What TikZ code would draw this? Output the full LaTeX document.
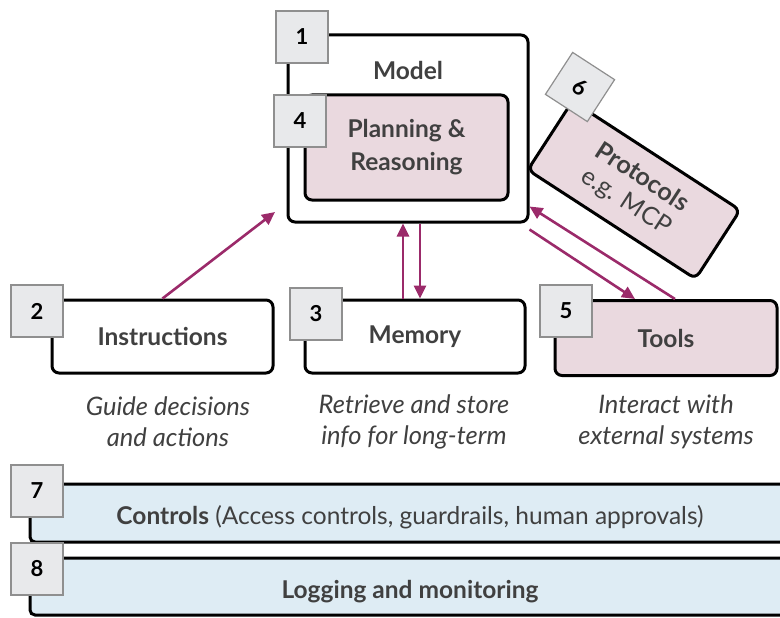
\documentclass[tikz,border=0pt]{standalone}
\usepackage{fontspec}
\setmainfont{Lato}
\usetikzlibrary{arrows.meta}
\definecolor{plum}{HTML}{9B2A6A}
\definecolor{pinkfill}{HTML}{EAD9DF}
\definecolor{bluefill}{HTML}{DEECF4}
\definecolor{numfill}{HTML}{E8E9EB}
\definecolor{numline}{HTML}{8F8F8F}
\definecolor{textgray}{HTML}{404040}
\tikzset{
	box/.style = {
		draw=black,
		line width=3pt,
		rounded corners=7pt,
		fill=white,
		text=textgray,
		align=center,
		font=\bfseries\fontsize{24.5}{33}\selectfont
	},
	box_pink/.style = {
		box,
		fill=pinkfill
	},
	box_num/.style = {
		draw=numline,
		line width=1.2pt,
		fill=numfill,
		minimum width=52pt,
		minimum height=52pt,
		text=black,
		font=\bfseries\fontsize{22}{26}\selectfont
	},
	bar/.style = {
		draw=black,
		line width=3pt,
		rounded corners=5pt,
		fill=bluefill,
		text=textgray,
		minimum width=760pt,
		text height=24pt,
		text depth=1pt,
		font=\fontsize{24.5}{30}\selectfont
	},
	caption/.style = {
		text=textgray,
		align=center,
		font=\itshape\fontsize{25.5}{31}\selectfont
	},
	link/.style = {
		draw=plum,
		line width=2.6pt,
		-{Triangle[length=13pt,width=12pt]}
	},
}
\begin{document}
\begin{tikzpicture}[x=1pt,y=-1pt]
\clip (0,0) rectangle (780,618);
\node [box, minimum width=240pt, minimum height=187pt] (model) at (408,128.5) {};
\node [text=textgray, font=\bfseries\fontsize{24.5}{30}\selectfont] (model_title) at (408,70) {Model};
\node [box_pink, minimum width=203pt, minimum height=105pt] (plan) at (406.5,147.5) {Planning \&\\Reasoning};
\node [box_pink, rotate=-33, minimum width=200pt, minimum height=82pt, font=\fontsize{25}{29}\selectfont] (proto) at (634,190) {\textbf{Protocols}\\e.g. MCP};
\node [box, minimum width=221pt, minimum height=73pt] (instr) at (162.5,336.5) {Instructions};
\node [box, minimum width=220pt, minimum height=73pt] (mem) at (415,336.5) {Memory};
\node [box_pink, minimum width=222pt, minimum height=75pt] (tools) at (666,338) {Tools};
\node [caption] (instr_text) at (168,422) {Guide decisions\\and actions};
\node [caption] (mem_text) at (414,422) {Retrieve and store\\info for long-term};
\node [caption] (tools_text) at (666,422) {Interact with\\external systems};
\node [bar, minimum height=58pt] (controls) at (410,513) {\textbf{Controls} (Access controls, guardrails, human approvals)};
\node [bar, minimum height=57pt, font=\bfseries\fontsize{24.5}{30}\selectfont] (logging) at (410,586.5) {Logging and monitoring};
\node [box_num] (num1) at (302,37) {1};
\node [box_num] (num4) at (300,121) {4};
\node [box_num, rotate=-33, minimum width=50pt, minimum height=50pt] (num6) at (580,87) {6};
\node [box_num] (num2) at (37,311) {2};
\node [box_num] (num3) at (316,314) {3};
\node [box_num] (num5) at (566,311) {5};
\node [box_num] (num7) at (37,491) {7};
\node [box_num] (num8) at (37,569) {8};
\coordinate (instr_tip) at (275,212);
\draw [link] (instr.north) -- (instr_tip);
\draw [link] ([xshift=-12pt]mem.north) -- ([xshift=-12pt]mem.north |- model.south);
\draw [link] ([xshift=12pt]model.south) -- ([xshift=12pt]model.south |- mem.north);
\draw [link] ([xshift=9pt]tools.north) -- ([yshift=17pt]model.south east);
\draw [link] ([yshift=-6pt]model.south east) -- ([xshift=-31pt]tools.north);
\end{tikzpicture}
\end{document}
